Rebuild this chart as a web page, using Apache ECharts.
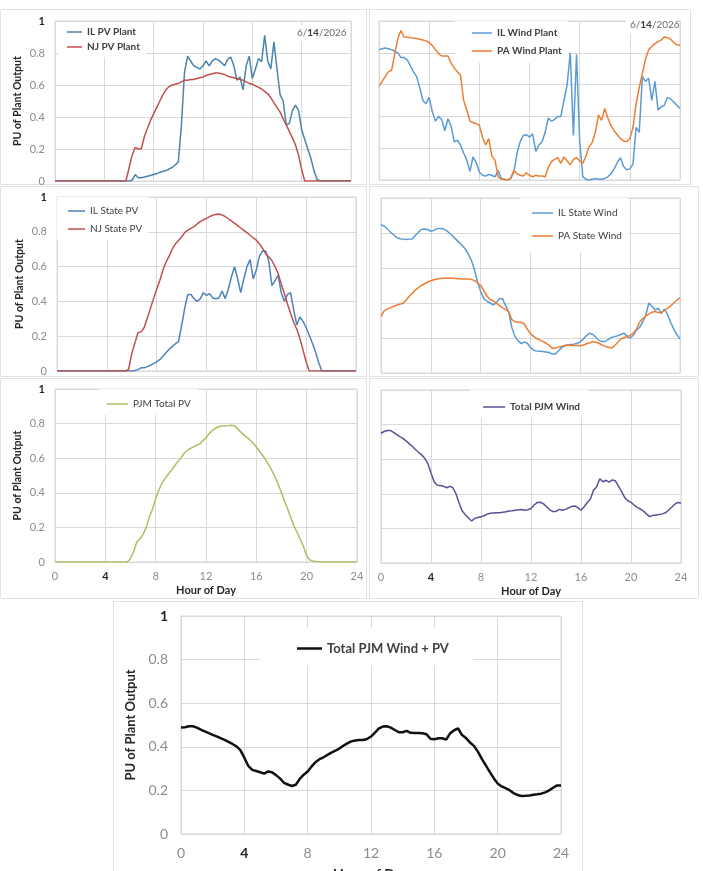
<!DOCTYPE html>
<html>
<head>
<meta charset="utf-8">
<title>PJM wind and PV output</title>
<script src="https://cdn.jsdelivr.net/npm/echarts@6/dist/echarts.min.js"></script>
<style>
  html, body { margin: 0; padding: 0; background: #ffffff; }
  #chart { width: 703px; height: 871px; }
</style>
</head>
<body>
<div id="chart"></div>
<script>
// quarter-hour samples, 0..24
const HOURS = [
  0, 0.25, 0.5, 0.75, 1, 1.25, 1.5, 1.75, 2, 2.25, 2.5, 2.75, 3, 3.25, 3.5, 3.75,
  4, 4.25, 4.5, 4.75, 5, 5.25, 5.5, 5.75, 6, 6.25, 6.5, 6.75, 7, 7.25, 7.5, 7.75,
  8, 8.25, 8.5, 8.75, 9, 9.25, 9.5, 9.75, 10, 10.25, 10.5, 10.75, 11, 11.25, 11.5, 11.75,
  12, 12.25, 12.5, 12.75, 13, 13.25, 13.5, 13.75, 14, 14.25, 14.5, 14.75, 15, 15.25, 15.5, 15.75,
  16, 16.25, 16.5, 16.75, 17, 17.25, 17.5, 17.75, 18, 18.25, 18.5, 18.75, 19, 19.25, 19.5, 19.75,
  20, 20.25, 20.5, 20.75, 21, 21.25, 21.5, 21.75, 22, 22.25, 22.5, 22.75, 23, 23.25, 23.5, 23.75,
  24,
]

const IL_PV_PLANT = [
  0, 0, 0, 0, 0, 0, 0, 0,
  0, 0, 0, 0, 0, 0, 0, 0,
  0, 0, 0, 0, 0, 0, 0, 0,
  0, 0.005, 0.04, 0.02, 0.02, 0.025, 0.03, 0.035,
  0.04, 0.045, 0.055, 0.06, 0.065, 0.075, 0.085, 0.1,
  0.12, 0.35, 0.68, 0.78, 0.75, 0.72, 0.71, 0.70,
  0.72, 0.75, 0.72, 0.75, 0.765, 0.755, 0.74, 0.72,
  0.76, 0.775, 0.72, 0.63, 0.65, 0.57, 0.72, 0.78,
  0.64, 0.70, 0.765, 0.745, 0.91, 0.75, 0.70, 0.87,
  0.70, 0.54, 0.50, 0.35, 0.36, 0.44, 0.475, 0.44,
  0.32, 0.26, 0.2, 0.14, 0.065, 0.01, 0, 0,
  0, 0, 0, 0, 0, 0, 0, 0,
  0,
]
const NJ_PV_PLANT = [
  0, 0, 0, 0, 0, 0, 0, 0,
  0, 0, 0, 0, 0, 0, 0, 0,
  0, 0, 0, 0, 0, 0, 0, 0,
  0.08, 0.16, 0.21, 0.2, 0.2, 0.28, 0.33, 0.38,
  0.42, 0.46, 0.50, 0.54, 0.57, 0.59, 0.60, 0.605,
  0.61, 0.62, 0.63, 0.63, 0.635, 0.635, 0.64, 0.645,
  0.65, 0.66, 0.665, 0.67, 0.675, 0.675, 0.67, 0.665,
  0.655, 0.65, 0.645, 0.64, 0.635, 0.63, 0.62, 0.61,
  0.605, 0.595, 0.585, 0.575, 0.56, 0.545, 0.52, 0.49,
  0.46, 0.43, 0.39, 0.35, 0.31, 0.27, 0.225, 0.16,
  0.07, 0, 0, 0, 0, 0, 0, 0,
  0, 0, 0, 0, 0, 0, 0, 0,
  0,
]
const IL_WIND_PLANT = [
  0.82, 0.825, 0.83, 0.825, 0.82, 0.81, 0.80, 0.77,
  0.77, 0.755, 0.72, 0.68, 0.65, 0.58, 0.50, 0.48,
  0.52, 0.43, 0.37, 0.40, 0.38, 0.31, 0.385, 0.34,
  0.24, 0.25, 0.22, 0.17, 0.125, 0.055, 0.145, 0.11,
  0.05, 0.03, 0.025, 0.035, 0.03, 0.02, 0.06, 0.01,
  0.005, 0, 0.01, 0.05, 0.165, 0.24, 0.28, 0.285,
  0.27, 0.29, 0.18, 0.22, 0.24, 0.30, 0.39, 0.37,
  0.38, 0.40, 0.40, 0.50, 0.60, 0.80, 0.28, 0.79,
  0.25, 0.02, 0.005, 0, 0.005, 0.01, 0.005, 0.005,
  0.01, 0.02, 0.04, 0.07, 0.11, 0.14, 0.085, 0.065,
  0.07, 0.10, 0.33, 0.30, 0.65, 0.62, 0.64, 0.50,
  0.62, 0.44, 0.46, 0.47, 0.52, 0.51, 0.49, 0.47,
  0.45,
]
const PA_WIND_PLANT = [
  0.59, 0.62, 0.65, 0.68, 0.69, 0.79, 0.89, 0.94,
  0.90, 0.898, 0.895, 0.893, 0.89, 0.885, 0.88, 0.875,
  0.865, 0.845, 0.82, 0.795, 0.78, 0.78, 0.78, 0.735,
  0.705, 0.68, 0.66, 0.50, 0.44, 0.37, 0.36, 0.355,
  0.345, 0.27, 0.22, 0.26, 0.15, 0.125, 0.02, 0.005,
  0.003, 0, 0.01, 0.06, 0.04, 0.03, 0.025, 0.045,
  0.03, 0.02, 0.03, 0.025, 0.025, 0.02, 0.08, 0.115,
  0.13, 0.14, 0.105, 0.145, 0.12, 0.095, 0.13, 0.14,
  0.12, 0.105, 0.15, 0.21, 0.235, 0.30, 0.41, 0.375,
  0.45, 0.39, 0.34, 0.31, 0.285, 0.26, 0.245, 0.24,
  0.26, 0.33, 0.48, 0.58, 0.67, 0.76, 0.82, 0.84,
  0.858, 0.87, 0.88, 0.90, 0.895, 0.885, 0.865, 0.85,
  0.847,
]
const IL_STATE_PV = [
  0, 0, 0, 0, 0, 0, 0, 0,
  0, 0, 0, 0, 0, 0, 0, 0,
  0, 0, 0, 0, 0, 0, 0, 0,
  0, 0.003, 0.008, 0.018, 0.018, 0.025, 0.033, 0.042,
  0.052, 0.065, 0.085, 0.105, 0.125, 0.14, 0.157, 0.167,
  0.26, 0.36, 0.44, 0.44, 0.415, 0.40, 0.415, 0.45,
  0.435, 0.445, 0.42, 0.415, 0.42, 0.46, 0.416, 0.47,
  0.54, 0.60, 0.53, 0.45, 0.53, 0.60, 0.64, 0.53,
  0.58, 0.66, 0.69, 0.69, 0.63, 0.49, 0.52, 0.55,
  0.45, 0.40, 0.44, 0.45, 0.35, 0.265, 0.31, 0.285,
  0.25, 0.205, 0.16, 0.11, 0.05, 0, 0, 0,
  0, 0, 0, 0, 0, 0, 0, 0,
  0,
]
const NJ_STATE_PV = [
  0, 0, 0, 0, 0, 0, 0, 0,
  0, 0, 0, 0, 0, 0, 0, 0,
  0, 0, 0, 0, 0, 0, 0, 0.01,
  0.10, 0.16, 0.22, 0.225, 0.25, 0.305, 0.36, 0.416,
  0.47, 0.52, 0.58, 0.625, 0.66, 0.70, 0.73, 0.75,
  0.77, 0.795, 0.81, 0.82, 0.83, 0.845, 0.858, 0.868,
  0.877, 0.887, 0.895, 0.90, 0.902, 0.897, 0.888, 0.875,
  0.863, 0.85, 0.836, 0.822, 0.808, 0.795, 0.78, 0.766,
  0.752, 0.73, 0.705, 0.675, 0.655, 0.635, 0.60, 0.56,
  0.50, 0.445, 0.385, 0.33, 0.28, 0.24, 0.185, 0.12,
  0.052, 0, 0, 0, 0, 0, 0, 0,
  0, 0, 0, 0, 0, 0, 0, 0,
  0,
]
const IL_STATE_WIND = [
  0.848, 0.84, 0.825, 0.805, 0.79, 0.775, 0.767, 0.765,
  0.763, 0.765, 0.766, 0.785, 0.805, 0.82, 0.823, 0.82,
  0.81, 0.815, 0.825, 0.826, 0.824, 0.814, 0.80, 0.783,
  0.765, 0.748, 0.73, 0.71, 0.68, 0.645, 0.59, 0.52,
  0.465, 0.425, 0.41, 0.40, 0.39, 0.40, 0.425, 0.425,
  0.385, 0.35, 0.26, 0.21, 0.185, 0.168, 0.178, 0.17,
  0.145, 0.13, 0.125, 0.124, 0.123, 0.12, 0.117, 0.108,
  0.108, 0.127, 0.145, 0.155, 0.16, 0.163, 0.165, 0.17,
  0.177, 0.195, 0.214, 0.228, 0.22, 0.205, 0.185, 0.18,
  0.18, 0.192, 0.203, 0.208, 0.213, 0.22, 0.228, 0.21,
  0.2, 0.215, 0.245, 0.26, 0.29, 0.33, 0.40, 0.38,
  0.36, 0.37, 0.34, 0.365, 0.335, 0.29, 0.25, 0.22,
  0.195,
]
const PA_STATE_WIND = [
  0.323, 0.355, 0.365, 0.372, 0.38, 0.387, 0.393, 0.398,
  0.415, 0.437, 0.455, 0.474, 0.488, 0.50, 0.51, 0.52,
  0.527, 0.533, 0.537, 0.54, 0.541, 0.541, 0.541, 0.541,
  0.54, 0.539, 0.537, 0.537, 0.537, 0.535, 0.528, 0.515,
  0.50, 0.47, 0.44, 0.42, 0.412, 0.40, 0.385, 0.373,
  0.362, 0.35, 0.305, 0.293, 0.29, 0.29, 0.28, 0.25,
  0.225, 0.209, 0.197, 0.188, 0.181, 0.17, 0.158, 0.14,
  0.143, 0.148, 0.152, 0.158, 0.16, 0.158, 0.157, 0.157,
  0.156, 0.16, 0.167, 0.173, 0.179, 0.176, 0.17, 0.16,
  0.152, 0.147, 0.142, 0.155, 0.175, 0.195, 0.203, 0.207,
  0.215, 0.228, 0.25, 0.29, 0.31, 0.325, 0.338, 0.347,
  0.351, 0.346, 0.345, 0.358, 0.37, 0.383, 0.40, 0.417,
  0.43,
]
const PJM_TOTAL_PV = [
  0, 0, 0, 0, 0, 0, 0, 0,
  0, 0, 0, 0, 0, 0, 0, 0,
  0, 0, 0, 0, 0, 0, 0, 0,
  0.02, 0.06, 0.116, 0.134, 0.16, 0.20, 0.26, 0.305,
  0.365, 0.415, 0.455, 0.483, 0.507, 0.53, 0.555, 0.58,
  0.60, 0.627, 0.645, 0.656, 0.665, 0.675, 0.683, 0.70,
  0.718, 0.742, 0.76, 0.773, 0.782, 0.786, 0.786, 0.787,
  0.79, 0.787, 0.772, 0.752, 0.735, 0.72, 0.705, 0.687,
  0.665, 0.64, 0.617, 0.59, 0.56, 0.527, 0.49, 0.447,
  0.40, 0.35, 0.305, 0.255, 0.207, 0.17, 0.13, 0.088,
  0.035, 0.012, 0.006, 0.003, 0.001, 0, 0, 0,
  0, 0, 0, 0, 0, 0, 0, 0,
  0,
]
const TOTAL_PJM_WIND = [
  0.75, 0.76, 0.766, 0.766, 0.755, 0.742, 0.73, 0.72,
  0.706, 0.69, 0.675, 0.656, 0.64, 0.625, 0.605, 0.575,
  0.52, 0.47, 0.45, 0.448, 0.444, 0.435, 0.443, 0.435,
  0.40, 0.345, 0.30, 0.279, 0.26, 0.243, 0.258, 0.263,
  0.267, 0.273, 0.283, 0.287, 0.289, 0.29, 0.29, 0.293,
  0.296, 0.30, 0.302, 0.305, 0.308, 0.309, 0.305, 0.308,
  0.315, 0.335, 0.35, 0.351, 0.342, 0.325, 0.307, 0.297,
  0.298, 0.31, 0.305, 0.31, 0.318, 0.327, 0.33, 0.32,
  0.305, 0.325, 0.35, 0.37, 0.42, 0.44, 0.487, 0.47,
  0.478, 0.468, 0.48, 0.475, 0.445, 0.413, 0.378, 0.36,
  0.35, 0.335, 0.322, 0.312, 0.30, 0.282, 0.268, 0.275,
  0.278, 0.28, 0.284, 0.29, 0.305, 0.322, 0.34, 0.35,
  0.347,
]
const TOTAL_WIND_PV = [
  0.488, 0.49, 0.494, 0.494, 0.488, 0.479, 0.471, 0.463,
  0.455, 0.448, 0.44, 0.432, 0.423, 0.413, 0.402, 0.385,
  0.35, 0.312, 0.294, 0.289, 0.283, 0.277, 0.287, 0.283,
  0.27, 0.255, 0.235, 0.227, 0.22, 0.226, 0.253, 0.272,
  0.287, 0.31, 0.33, 0.343, 0.352, 0.363, 0.373, 0.382,
  0.392, 0.405, 0.416, 0.425, 0.429, 0.431, 0.431, 0.436,
  0.447, 0.465, 0.484, 0.493, 0.494, 0.488, 0.477, 0.467,
  0.467, 0.473, 0.464, 0.463, 0.463, 0.462, 0.458, 0.437,
  0.435, 0.439, 0.439, 0.433, 0.462, 0.476, 0.484, 0.454,
  0.44, 0.42, 0.404, 0.378, 0.345, 0.315, 0.285, 0.256,
  0.232, 0.218, 0.21, 0.201, 0.188, 0.179, 0.174, 0.175,
  0.177, 0.18, 0.182, 0.185, 0.191, 0.2, 0.212, 0.223,
  0.223,
]

const DATE_LABEL = '6/14/2026'
const Y_NAME = 'PU of Plant Output'
const X_NAME = 'Hour of Day'

const FONT = 'Lato, "Liberation Sans", sans-serif'
const GRID_COLOR = '#d9d9d9'
const FRAME_COLOR = '#e2e2e2'
const LABEL_COLOR = '#8c8c8c'
const TEXT_DARK = '#404040'

// plot rectangles of the seven panels
const panels = [
  { left: 55, top: 21, width: 296, height: 160, yLabels: true, xLabels: false },
  { left: 379, top: 21, width: 301, height: 159, yLabels: false, xLabels: false },
  { left: 57, top: 197, width: 299, height: 174, yLabels: true, xLabels: false },
  { left: 381, top: 198, width: 299, height: 175, yLabels: false, xLabels: false },
  { left: 55, top: 389, width: 302, height: 173, yLabels: true, xLabels: true },
  { left: 381, top: 390, width: 300, height: 173, yLabels: false, xLabels: true },
  { left: 181, top: 616, width: 380, height: 218, yLabels: true, xLabels: true, big: true },
]

const grids = panels.map((p) => ({
  left: p.left,
  top: p.top,
  width: p.width,
  height: p.height,
  outerBoundsMode: 'none',
  containLabel: false,
  show: true,
  borderColor: GRID_COLOR,
  borderWidth: 1,
  backgroundColor: 'transparent',
}))

const labelRich = {
  d: { color: '#262626', fontWeight: 'bold', fontFamily: FONT },
}

const xAxes = panels.map((p, i) => ({
  type: 'value',
  gridIndex: i,
  min: 0,
  max: 24,
  interval: 4,
  axisLine: { show: false },
  axisTick: { show: false },
  splitLine: { show: true, lineStyle: { color: GRID_COLOR, width: 1 } },
  axisLabel: {
    show: p.xLabels,
    color: LABEL_COLOR,
    fontFamily: FONT,
    fontSize: p.big ? 14 : 11,
    margin: p.big ? 12 : 9,
    formatter: (v) => (v === 4 ? '{d|4}' : String(v)),
    rich: labelRich,
  },
  name: p.xLabels ? X_NAME : '',
  nameLocation: 'middle',
  nameGap: p.big ? 33 : 23,
  nameTextStyle: {
    color: '#262626',
    fontFamily: FONT,
    fontWeight: 'bold',
    fontSize: p.big ? 14 : 11,
  },
}))

const yAxes = panels.map((p, i) => ({
  type: 'value',
  gridIndex: i,
  min: 0,
  max: 1,
  interval: 0.2,
  axisLine: { show: false },
  axisTick: { show: false },
  splitLine: { show: true, lineStyle: { color: GRID_COLOR, width: 1 } },
  axisLabel: {
    show: p.yLabels,
    color: LABEL_COLOR,
    fontFamily: FONT,
    fontSize: p.big ? 14 : 11,
    margin: p.big ? 13 : 10,
    formatter: (v) => (v === 1 ? '{d|1}' : v === 0 ? '0' : v.toFixed(1)),
    rich: labelRich,
  },
  name: p.yLabels ? Y_NAME : '',
  nameLocation: 'middle',
  nameGap: p.big ? 35 : 32,
  nameTextStyle: {
    color: '#262626',
    fontFamily: FONT,
    fontWeight: 'bold',
    fontSize: p.big ? 13 : 10.5,
  },
}))

function line(name, values, idx, color, width) {
  return {
    name,
    type: 'line',
    xAxisIndex: idx,
    yAxisIndex: idx,
    data: HOURS.map((h, i) => [h, values[i]]),
    symbol: 'none',
    smooth: false,
    lineStyle: { color, width },
    itemStyle: { color },
    z: 3,
  }
}

const series = [
  line('IL PV Plant', IL_PV_PLANT, 0, '#4a84aa', 1.5),
  line('NJ PV Plant', NJ_PV_PLANT, 0, '#c0504d', 1.5),
  line('IL Wind Plant', IL_WIND_PLANT, 1, '#5b9bd5', 1.5),
  line('PA Wind Plant', PA_WIND_PLANT, 1, '#ed7d31', 1.5),
  line('IL State PV', IL_STATE_PV, 2, '#4f81bd', 1.5),
  line('NJ State PV', NJ_STATE_PV, 2, '#c0504d', 1.5),
  line('IL State Wind', IL_STATE_WIND, 3, '#5b9bd5', 1.5),
  line('PA State Wind', PA_STATE_WIND, 3, '#ed7d31', 1.5),
  line('PJM Total PV', PJM_TOTAL_PV, 4, '#a9c160', 1.5),
  line('Total PJM Wind', TOTAL_PJM_WIND, 5, '#5b5196', 1.5),
  line('Total PJM Wind + PV', TOTAL_WIND_PV, 6, '#111111', 2.5),
]

function legend(names, left, top, padding, gap, itemWidth, fontSize, bold, thick) {
  return {
    data: names,
    orient: 'vertical',
    left,
    top,
    padding,
    itemGap: gap,
    itemWidth,
    itemHeight: thick || 1.5,
    icon: 'rect',
    backgroundColor: '#ffffff',
    selectedMode: false,
    textStyle: {
      color: TEXT_DARK,
      fontFamily: FONT,
      fontSize,
      lineHeight: fontSize + 2,
      fontWeight: bold ? 'bold' : 'normal',
    },
  }
}

const legends = [
  legend(['IL PV Plant', 'NJ PV Plant'], 58, 22, [4, 6, 4, 9], 3, 15, 10, true),
  legend(['IL Wind Plant', 'PA Wind Plant'], 455, 21, [6, 6, 6, 17], 6, 20, 10, true),
  legend(['IL State PV', 'NJ State PV'], 57, 197, [8, 6, 5, 11], 6, 17, 10, false),
  legend(['IL State Wind', 'PA State Wind'], 520, 198, [9, 6, 10, 12], 11, 21, 10, false),
  legend(['PJM Total PV'], 100, 389, [9, 8, 5, 7], 0, 21, 10, false),
  legend(['Total PJM Wind'], 470, 390, [11, 8, 5, 13], 0, 22, 10, true),
  legend(['Total PJM Wind + PV'], 260, 628, [13, 25, 10, 37], 0, 25, 13, true, 2.5),
]

function frame(x, y, w, h) {
  return {
    type: 'rect',
    silent: true,
    z: -10,
    shape: { x: x + 0.5, y: y + 0.5, width: w, height: h },
    style: { fill: 'none', stroke: FRAME_COLOR, lineWidth: 1 },
  }
}

function dateText(x, y, boxW) {
  const parts = DATE_LABEL.split('/')
  return [
    {
      type: 'rect',
      silent: true,
      z: 4,
      shape: { x: x - 4, y: y - 8, width: boxW, height: 17 },
      style: { fill: '#ffffff' },
    },
    {
      type: 'text',
      silent: true,
      z: 5,
      x,
      y,
      style: {
        text: `{a|${parts[0]}/}{b|${parts[1]}}{a|/${parts[2]}}`,
        verticalAlign: 'middle',
        rich: {
          a: { fill: '#6b6b6b', font: `10px ${FONT}` },
          b: { fill: '#404040', font: `bold 10px ${FONT}` },
        },
      },
    },
  ]
}

const graphics = [
  frame(0, 9, 366, 175),
  frame(369, 9, 321, 175),
  frame(0, 186, 366, 190),
  frame(369, 186, 329, 190),
  frame(0, 378, 366, 220),
  frame(369, 378, 329, 220),
  frame(113, 601, 469, 280),
  ...dateText(297, 33, 54),
  ...dateText(630, 25, 50),
]

const chart = echarts.init(document.getElementById('chart'))
chart.setOption({
  backgroundColor: '#ffffff',
  animation: false,
  textStyle: { fontFamily: FONT },
  grid: grids,
  xAxis: xAxes,
  yAxis: yAxes,
  legend: legends,
  graphic: graphics,
  series,
})
</script>
</body>
</html>
